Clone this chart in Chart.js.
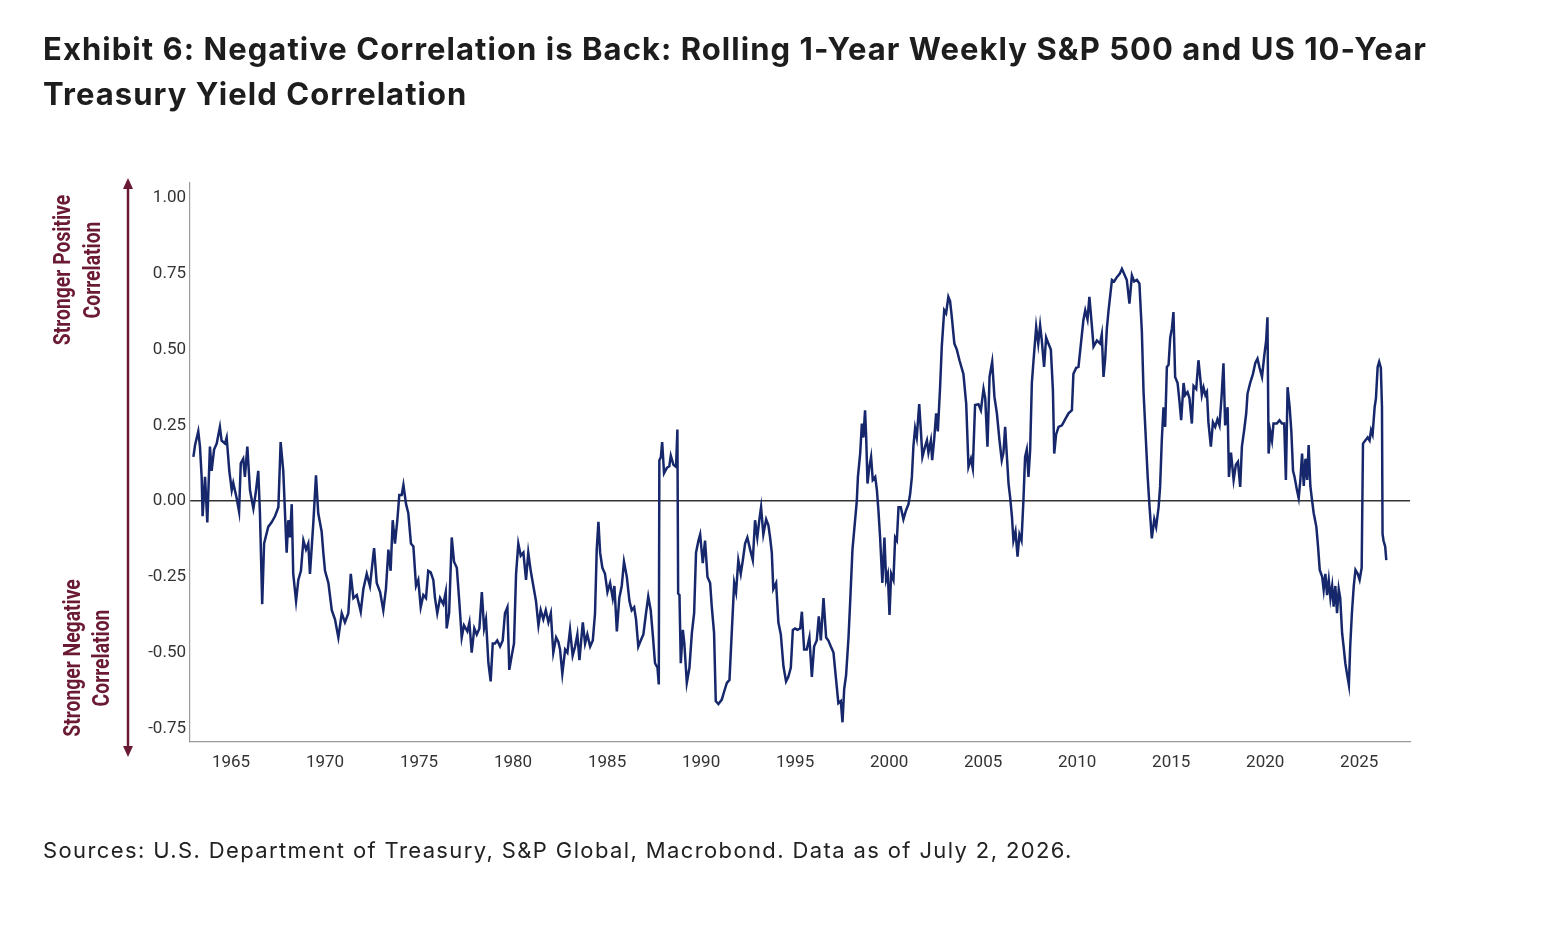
<!DOCTYPE html>
<html>
<head>
<meta charset="utf-8">
<script src="https://cdn.jsdelivr.net/npm/chart.js@4.4.1/dist/chart.umd.min.js"></script>
<style>
  html, body { margin: 0; padding: 0; background: #fff; }
  #wrap { position: relative; width: 1544px; height: 932px; overflow: hidden; }
  #chart { position: absolute; left: 0; top: 0; }
  .title {
    position: absolute; left: 43px; top: 26px; margin: 0;
    font-family: Inter, "Noto Sans", sans-serif; font-weight: 700;
    font-size: 31px; line-height: 45px; color: #1d1d1d; letter-spacing: 1.05px;
  }
  .source {
    position: absolute; left: 43px; top: 837px; margin: 0;
    font-family: Inter, "Noto Sans", sans-serif; font-weight: 400;
    font-size: 22px; color: #222; letter-spacing: 1.38px;
  }
</style>
</head>
<body>
<div id="wrap">
  <canvas id="chart" width="1544" height="932"></canvas>
  <h1 class="title">Exhibit 6: Negative Correlation is Back: Rolling 1-Year Weekly S&amp;P 500 and US 10-Year<br>Treasury Yield Correlation</h1>
  <p class="source">Sources: U.S. Department of Treasury, S&amp;P Global, Macrobond. Data as of July 2, 2026.</p>
</div>
<script>
// rolling 1-year correlation (decimal years)
const years = [
  1963.00, 1963.09, 1963.26, 1963.35, 1963.44, 1963.49, 1963.62, 1963.74, 1963.88, 1963.97,
  1964.10, 1964.24, 1964.41, 1964.50, 1964.68, 1964.77, 1964.91, 1965.04, 1965.12, 1965.30,
  1965.43, 1965.52, 1965.65, 1965.74, 1965.87, 1966.01, 1966.19, 1966.31, 1966.45, 1966.54,
  1966.66, 1966.76, 1966.98, 1967.16, 1967.34, 1967.52, 1967.64, 1967.78, 1967.96, 1968.05,
  1968.14, 1968.23, 1968.31, 1968.46, 1968.58, 1968.72, 1968.85, 1968.99, 1969.11, 1969.20,
  1969.38, 1969.52, 1969.64, 1969.82, 1969.91, 1970.00, 1970.18, 1970.36, 1970.53, 1970.71,
  1970.89, 1971.06, 1971.24, 1971.37, 1971.51, 1971.69, 1971.90, 1972.04, 1972.22, 1972.39,
  1972.61, 1972.75, 1972.93, 1973.10, 1973.24, 1973.37, 1973.49, 1973.60, 1973.72, 1973.85,
  1973.95, 1974.08, 1974.17, 1974.31, 1974.43, 1974.57, 1974.70, 1974.84, 1974.96, 1975.09,
  1975.23, 1975.37, 1975.49, 1975.62, 1975.76, 1975.85, 1975.97, 1976.12, 1976.29, 1976.42,
  1976.47, 1976.60, 1976.74, 1976.86, 1977.01, 1977.14, 1977.27, 1977.39, 1977.57, 1977.68,
  1977.80, 1977.94, 1978.07, 1978.21, 1978.34, 1978.46, 1978.56, 1978.69, 1978.81, 1978.92,
  1979.04, 1979.16, 1979.31, 1979.45, 1979.57, 1979.70, 1979.80, 1979.93, 1980.05, 1980.16,
  1980.28, 1980.41, 1980.55, 1980.69, 1980.81, 1980.94, 1981.08, 1981.22, 1981.35, 1981.47,
  1981.61, 1981.74, 1981.88, 1982.01, 1982.14, 1982.29, 1982.41, 1982.50, 1982.62, 1982.77,
  1982.89, 1983.03, 1983.17, 1983.30, 1983.42, 1983.53, 1983.71, 1983.83, 1983.95, 1984.10,
  1984.24, 1984.36, 1984.45, 1984.54, 1984.63, 1984.75, 1984.89, 1985.02, 1985.16, 1985.30,
  1985.39, 1985.52, 1985.65, 1985.78, 1985.90, 1986.05, 1986.19, 1986.31, 1986.44, 1986.54,
  1986.66, 1986.79, 1986.93, 1987.07, 1987.19, 1987.32, 1987.43, 1987.55, 1987.68, 1987.75,
  1987.78, 1987.86, 1987.93, 1988.03, 1988.18, 1988.31, 1988.39, 1988.53, 1988.67, 1988.74,
  1988.78, 1988.85, 1988.92, 1989.03, 1989.11, 1989.24, 1989.38, 1989.51, 1989.63, 1989.73,
  1989.86, 1989.95, 1990.09, 1990.21, 1990.34, 1990.48, 1990.57, 1990.69, 1990.78, 1990.92,
  1991.10, 1991.22, 1991.37, 1991.51, 1991.63, 1991.76, 1991.86, 1991.98, 1992.11, 1992.22,
  1992.34, 1992.46, 1992.61, 1992.75, 1992.87, 1992.99, 1993.10, 1993.19, 1993.31, 1993.46,
  1993.58, 1993.67, 1993.76, 1993.84, 1993.99, 1994.11, 1994.24, 1994.38, 1994.52, 1994.64,
  1994.77, 1994.88, 1995.00, 1995.12, 1995.27, 1995.36, 1995.48, 1995.62, 1995.76, 1995.89,
  1996.01, 1996.15, 1996.26, 1996.37, 1996.51, 1996.65, 1996.77, 1996.90, 1997.04, 1997.18,
  1997.30, 1997.43, 1997.52, 1997.61, 1997.71, 1997.84, 1997.93, 1998.05, 1998.19, 1998.28,
  1998.34, 1998.46, 1998.55, 1998.63, 1998.72, 1998.78, 1998.85, 1998.94, 1999.04, 1999.13,
  1999.26, 1999.35, 1999.43, 1999.52, 1999.64, 1999.75, 1999.84, 1999.93, 2000.02, 2000.11,
  2000.23, 2000.32, 2000.41, 2000.50, 2000.62, 2000.76, 2000.90, 2001.03, 2001.12, 2001.21,
  2001.29, 2001.38, 2001.47, 2001.60, 2001.69, 2001.77, 2001.91, 2002.01, 2002.09, 2002.22,
  2002.29, 2002.39, 2002.50, 2002.59, 2002.71, 2002.80, 2002.93, 2003.03, 2003.15, 2003.24,
  2003.33, 2003.47, 2003.60, 2003.74, 2003.95, 2004.10, 2004.22, 2004.35, 2004.45, 2004.57,
  2004.75, 2004.88, 2005.02, 2005.11, 2005.23, 2005.34, 2005.48, 2005.60, 2005.73, 2005.87,
  2005.99, 2006.08, 2006.17, 2006.26, 2006.35, 2006.44, 2006.53, 2006.61, 2006.72, 2006.83,
  2006.93, 2007.04, 2007.14, 2007.23, 2007.32, 2007.41, 2007.50, 2007.59, 2007.68, 2007.82,
  2007.93, 2008.03, 2008.12, 2008.24, 2008.35, 2008.47, 2008.60, 2008.71, 2008.78, 2008.88,
  2009.01, 2009.19, 2009.36, 2009.54, 2009.72, 2009.80, 2009.95, 2010.07, 2010.20, 2010.33,
  2010.43, 2010.55, 2010.65, 2010.78, 2010.87, 2011.05, 2011.22, 2011.31, 2011.40, 2011.49,
  2011.58, 2011.67, 2011.76, 2011.85, 2011.97, 2012.12, 2012.26, 2012.38, 2012.50, 2012.64,
  2012.78, 2012.91, 2013.03, 2013.18, 2013.31, 2013.44, 2013.53, 2013.64, 2013.75, 2013.85,
  2013.97, 2014.10, 2014.20, 2014.33, 2014.41, 2014.50, 2014.59, 2014.68, 2014.77, 2014.86,
  2014.95, 2015.04, 2015.12, 2015.21, 2015.34, 2015.44, 2015.53, 2015.66, 2015.74, 2015.87,
  2015.97, 2016.10, 2016.19, 2016.33, 2016.45, 2016.54, 2016.63, 2016.72, 2016.82, 2016.90,
  2016.98, 2017.11, 2017.22, 2017.34, 2017.46, 2017.57, 2017.69, 2017.78, 2017.87, 2018.00,
  2018.07, 2018.18, 2018.32, 2018.44, 2018.55, 2018.67, 2018.76, 2018.88, 2018.99, 2019.06,
  2019.20, 2019.35, 2019.47, 2019.59, 2019.70, 2019.83, 2019.95, 2020.05, 2020.12, 2020.18,
  2020.27, 2020.36, 2020.44, 2020.62, 2020.76, 2020.89, 2021.01, 2021.10, 2021.19, 2021.30,
  2021.39, 2021.48, 2021.56, 2021.69, 2021.78, 2021.87, 2021.96, 2022.05, 2022.14, 2022.23,
  2022.31, 2022.40, 2022.49, 2022.58, 2022.72, 2022.81, 2022.90, 2023.03, 2023.11, 2023.20,
  2023.29, 2023.38, 2023.47, 2023.56, 2023.64, 2023.73, 2023.82, 2023.91, 2023.99, 2024.09,
  2024.17, 2024.26, 2024.35, 2024.45, 2024.52, 2024.61, 2024.71, 2024.80, 2024.92, 2025.02,
  2025.13, 2025.20, 2025.32, 2025.45, 2025.55, 2025.63, 2025.71, 2025.82, 2025.89, 2025.98,
  2026.06, 2026.15, 2026.21, 2026.24, 2026.29, 2026.38, 2026.44
];
const corr = [
  0.146, 0.185, 0.23, 0.18, 0.08, -0.05, 0.08, -0.07, 0.18, 0.10,
  0.17, 0.19, 0.245, 0.20, 0.19, 0.21, 0.10, 0.036, 0.06, 0.01,
  -0.035, 0.125, 0.14, 0.08, 0.18, 0.036, -0.024, 0.025, 0.10, -0.04,
  -0.34, -0.14, -0.085, -0.07, -0.05, -0.02, 0.195, 0.10, -0.17, -0.063,
  -0.12, -0.01, -0.24, -0.33, -0.26, -0.23, -0.13, -0.16, -0.14, -0.24,
  -0.07, 0.085, -0.04, -0.10, -0.17, -0.23, -0.27, -0.36, -0.39, -0.45,
  -0.37, -0.40, -0.37, -0.24, -0.32, -0.31, -0.365, -0.29, -0.24, -0.28,
  -0.155, -0.27, -0.30, -0.36, -0.29, -0.16, -0.23, -0.063, -0.14, -0.06,
  0.02, 0.02, 0.053, -0.01, -0.04, -0.14, -0.15, -0.28, -0.26, -0.35,
  -0.31, -0.32, -0.23, -0.235, -0.26, -0.32, -0.37, -0.32, -0.34, -0.30,
  -0.42, -0.37, -0.12, -0.20, -0.22, -0.33, -0.45, -0.41, -0.43, -0.40,
  -0.50, -0.42, -0.44, -0.42, -0.30, -0.42, -0.39, -0.535, -0.595, -0.47,
  -0.47, -0.46, -0.48, -0.46, -0.37, -0.35, -0.557, -0.51, -0.47, -0.24,
  -0.14, -0.18, -0.17, -0.26, -0.17, -0.23, -0.28, -0.33, -0.41, -0.36,
  -0.39, -0.36, -0.40, -0.37, -0.50, -0.45, -0.465, -0.49, -0.57, -0.49,
  -0.50, -0.425, -0.51, -0.48, -0.44, -0.525, -0.40, -0.47, -0.44, -0.48,
  -0.46, -0.37, -0.16, -0.068, -0.17, -0.22, -0.24, -0.30, -0.27, -0.32,
  -0.28, -0.43, -0.32, -0.28, -0.20, -0.25, -0.33, -0.36, -0.35, -0.39,
  -0.48, -0.46, -0.44, -0.37, -0.315, -0.36, -0.44, -0.535, -0.55, -0.605,
  0.135, 0.145, 0.195, 0.092, 0.11, 0.115, 0.15, 0.12, 0.113, 0.236,
  -0.305, -0.31, -0.535, -0.425, -0.47, -0.60, -0.55, -0.435, -0.37, -0.17,
  -0.13, -0.11, -0.205, -0.13, -0.25, -0.27, -0.35, -0.435, -0.66, -0.67,
  -0.655, -0.63, -0.60, -0.59, -0.435, -0.27, -0.30, -0.195, -0.24, -0.195,
  -0.14, -0.12, -0.16, -0.195, -0.063, -0.12, -0.06, -0.02, -0.11, -0.06,
  -0.08, -0.12, -0.17, -0.29, -0.27, -0.40, -0.44, -0.545, -0.595, -0.58,
  -0.55, -0.425, -0.42, -0.425, -0.42, -0.365, -0.49, -0.49, -0.45, -0.58,
  -0.48, -0.46, -0.38, -0.46, -0.32, -0.45, -0.46, -0.48, -0.50, -0.59,
  -0.667, -0.66, -0.73, -0.62, -0.575, -0.45, -0.33, -0.16, -0.063, 0.0,
  0.08, 0.157, 0.256, 0.21, 0.30, 0.21, 0.058, 0.11, 0.146, 0.07,
  0.08, 0.036, -0.03, -0.12, -0.27, -0.12, -0.26, -0.24, -0.376, -0.24,
  -0.26, -0.12, -0.13, -0.02, -0.02, -0.06, -0.03, -0.01, 0.025, 0.08,
  0.18, 0.24, 0.21, 0.32, 0.23, 0.146, 0.18, 0.20, 0.16, 0.20,
  0.135, 0.20, 0.29, 0.23, 0.376, 0.51, 0.63, 0.62, 0.674, 0.66,
  0.61, 0.52, 0.50, 0.465, 0.42, 0.32, 0.113, 0.14, 0.108, 0.317,
  0.32, 0.30, 0.37, 0.34, 0.18, 0.41, 0.46, 0.344, 0.29, 0.20,
  0.135, 0.16, 0.245, 0.15, 0.058, 0.01, -0.05, -0.13, -0.10, -0.183,
  -0.11, -0.13, 0.0, 0.146, 0.17, 0.08, 0.17, 0.39, 0.465, 0.575,
  0.52, 0.58, 0.53, 0.443, 0.54, 0.52, 0.50, 0.366, 0.157, 0.22,
  0.245, 0.25, 0.27, 0.29, 0.30, 0.42, 0.44, 0.443, 0.52, 0.597,
  0.63, 0.60, 0.674, 0.58, 0.51, 0.53, 0.52, 0.55, 0.41, 0.47,
  0.57, 0.63, 0.68, 0.73, 0.725, 0.74, 0.75, 0.767, 0.75, 0.73,
  0.652, 0.745, 0.725, 0.73, 0.718, 0.56, 0.36, 0.22, 0.08, -0.02,
  -0.123, -0.06, -0.085, -0.02, 0.047, 0.20, 0.31, 0.245, 0.443, 0.45,
  0.54, 0.57, 0.624, 0.41, 0.39, 0.33, 0.267, 0.39, 0.35, 0.36,
  0.34, 0.256, 0.38, 0.37, 0.465, 0.41, 0.35, 0.375, 0.35, 0.36,
  0.26, 0.18, 0.26, 0.245, 0.27, 0.25, 0.355, 0.455, 0.25, 0.31,
  0.08, 0.16, 0.07, 0.12, 0.13, 0.047, 0.18, 0.234, 0.29, 0.355,
  0.39, 0.42, 0.455, 0.47, 0.44, 0.41, 0.48, 0.53, 0.607, 0.157,
  0.23, 0.20, 0.256, 0.256, 0.267, 0.256, 0.256, 0.07, 0.376, 0.31,
  0.23, 0.10, 0.08, 0.036, 0.01, 0.07, 0.157, 0.05, 0.14, 0.07,
  0.185, 0.05, 0.003, -0.04, -0.085, -0.15, -0.227, -0.25, -0.293, -0.24,
  -0.31, -0.26, -0.32, -0.28, -0.348, -0.28, -0.37, -0.29, -0.32, -0.436,
  -0.48, -0.535, -0.57, -0.607, -0.48, -0.37, -0.28, -0.227, -0.24, -0.26,
  -0.22, 0.19, 0.20, 0.21, 0.20, 0.234, 0.22, 0.31, 0.34, 0.443,
  0.46, 0.44, 0.31, -0.107, -0.13, -0.15, -0.195
];

const xTicks = [1965, 1970, 1975, 1980, 1985, 1990, 1995, 2000, 2005, 2010, 2015, 2020, 2025];
const yTicks = [-0.75, -0.5, -0.25, 0, 0.25, 0.5, 0.75, 1.0];
const sideLabels = [
  ["Stronger Positive", "Correlation"],
  ["Stronger Negative", "Correlation"]
];

const maroon = "#6b1a33";
const tickFont = { family: "Roboto, 'Liberation Sans', sans-serif", size: 17 };

// arrow + rotated captions left of the y axis
const sideArrow = {
  id: "sideArrow",
  afterDraw(chart) {
    const { ctx, chartArea } = chart;
    const ax = chartArea.left - 62;
    const top = chartArea.top - 5;
    const bot = chartArea.bottom + 15;
    ctx.save();
    ctx.strokeStyle = maroon;
    ctx.fillStyle = maroon;
    ctx.lineWidth = 2.5;
    ctx.beginPath();
    ctx.moveTo(ax, top + 8);
    ctx.lineTo(ax, bot - 8);
    ctx.stroke();
    ctx.beginPath();
    ctx.moveTo(ax, top); ctx.lineTo(ax - 5, top + 11); ctx.lineTo(ax + 5, top + 11); ctx.closePath();
    ctx.fill();
    ctx.beginPath();
    ctx.moveTo(ax, bot); ctx.lineTo(ax - 5, bot - 11); ctx.lineTo(ax + 5, bot - 11); ctx.closePath();
    ctx.fill();

    ctx.font = "bold 23px Roboto, 'Liberation Sans', sans-serif";
    ctx.textAlign = "center";
    ctx.textBaseline = "middle";
    const blocks = [
      { lines: sideLabels[0], cy: chartArea.top + 87, x1: ax - 64, x2: ax - 34 },
      { lines: sideLabels[1], cy: chartArea.top + 475, x1: ax - 54, x2: ax - 25 }
    ];
    blocks.forEach(b => {
      [b.x1, b.x2].forEach((x, i) => {
        ctx.save();
        ctx.translate(x, b.cy);
        ctx.rotate(-Math.PI / 2);
        ctx.scale(0.84, 1); // squeeze to a condensed look
        ctx.fillText(b.lines[i], 0, 0);
        ctx.restore();
      });
    });
    ctx.restore();
  }
};

new Chart(document.getElementById("chart"), {
  type: "line",
  data: {
    datasets: [{
      data: years.map((y, i) => ({ x: y, y: corr[i] })),
      borderColor: "#16286b",
      borderWidth: 2.5,
      pointRadius: 0,
      tension: 0,
      fill: false
    }]
  },
  options: {
    responsive: false,
    animation: false,
    layout: { padding: { left: 130, right: 134, top: 183, bottom: 150 } },
    plugins: { legend: { display: false }, tooltip: { enabled: false } },
    scales: {
      x: {
        type: "linear",
        min: 1962.82,
        max: 2027.7,
        afterBuildTicks: scale => { scale.ticks = xTicks.map(v => ({ value: v })) },
        afterFit: scale => { scale.height = 40 },
        grid: { display: false },
        border: { color: "#9a9a9a", width: 1.2 },
        ticks: { font: tickFont, color: "#333", padding: 3, maxRotation: 0, callback: v => String(v) }
      },
      y: {
        min: -0.795,
        max: 1.05,
        afterBuildTicks: scale => { scale.ticks = yTicks.map(v => ({ value: v })) },
        afterFit: scale => { scale.width = 60 },
        grid: {
          drawTicks: false,
          lineWidth: 1.5,
          color: c => (c.tick && c.tick.value === 0 ? "#333" : "rgba(0,0,0,0)")
        },
        border: { color: "#9a9a9a", width: 1.2 },
        ticks: { font: tickFont, color: "#333", padding: 4, callback: v => v.toFixed(2) }
      }
    }
  },
  plugins: [sideArrow]
});
</script>
</body>
</html>
